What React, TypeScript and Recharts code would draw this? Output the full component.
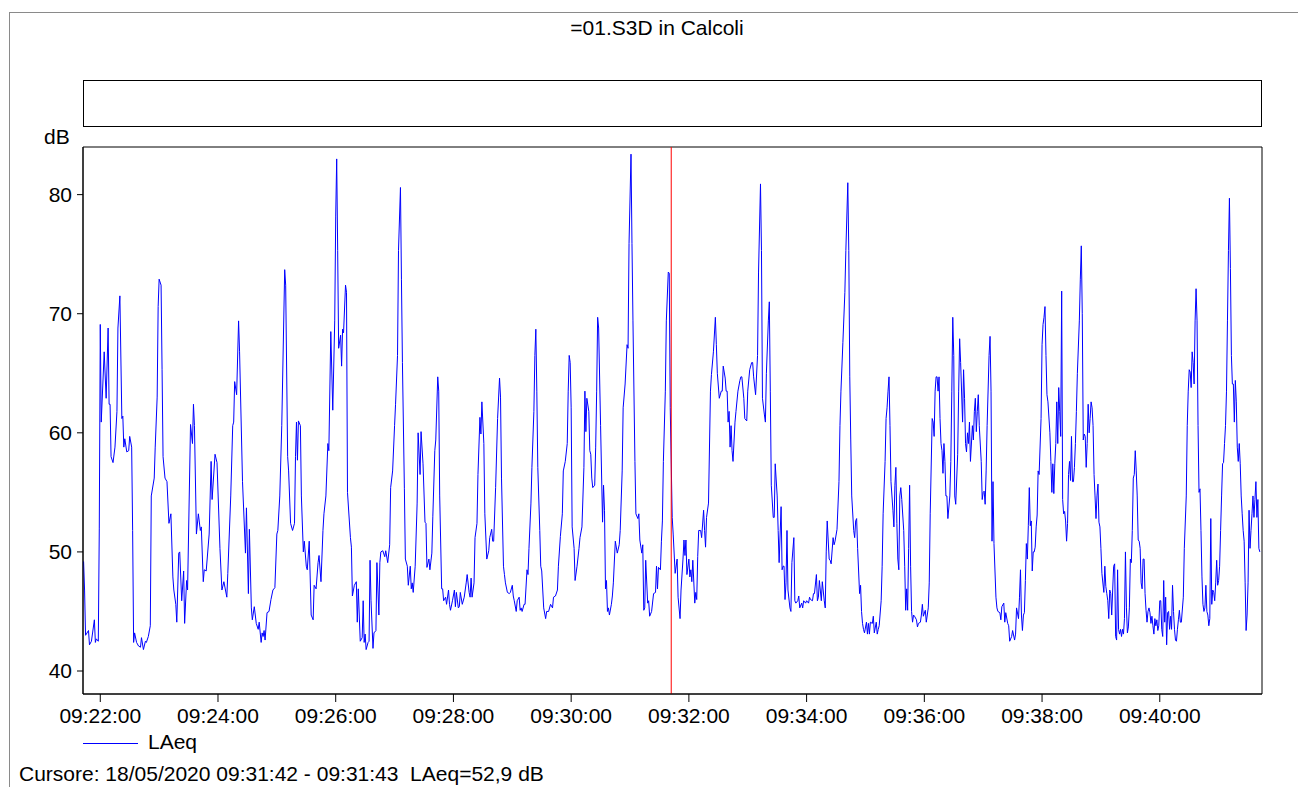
import { Line, LineChart, ReferenceArea, ReferenceLine, XAxis, YAxis } from 'recharts';

// seconds are counted from 09:22:00, values are LAeq in dB
const T0 = 9 * 3600 + 22 * 60;

const part1: [number, number][] = [
    [-17, 49.2], [-16, 46.8], [-15, 43.0], [-12, 43.4], [-11, 42.2], [-9, 42.5], [-6, 44.3], [-5, 42.4], [-4, 42.7], [-2, 42.5],
    [-1, 52.0], [0, 69.1], [1, 60.9], [4, 66.8], [6, 62.9], [8, 68.8], [9, 62.4], [10, 62.4], [11, 58.0], [13, 57.5],
    [15, 58.8], [17, 61.8], [18, 68.8], [20, 71.5], [22, 61.2], [23, 61.4], [24, 58.8], [25, 59.5], [27, 58.4], [29, 58.5],
    [30, 59.7], [32, 58.8], [33, 51.8], [34, 42.4], [35, 43.2], [37, 42.4], [39, 42.1], [41, 42.0], [42, 42.8], [44, 41.8],
    [46, 42.5], [47, 42.4], [49, 42.9], [51, 43.8], [52, 54.7], [55, 56.2], [56, 58.8], [58, 63.0], [59, 70.6], [60, 72.9],
    [62, 72.4], [63, 65.3], [64, 58.0], [66, 56.2], [68, 55.9], [70, 52.4], [72, 53.2], [74, 47.9], [75, 46.8], [77, 45.6],
    [78, 44.1], [80, 49.9], [81, 50.0], [83, 45.9], [85, 48.4], [86, 44.0], [88, 47.6],
];

const part2: [number, number][] = [
    [89, 46.8], [92, 60.7], [94, 59.1], [95, 62.4], [96, 60.6], [98, 51.5], [100, 53.2], [102, 51.8], [103, 52.1], [105, 47.5],
    [106, 48.5], [108, 48.4], [111, 51.5], [113, 57.6], [114, 54.4], [117, 58.2], [119, 57.5], [122, 50.3], [124, 46.8], [126, 47.5],
    [129, 46.2], [130, 48.2], [133, 54.7], [135, 60.6], [136, 60.9], [137, 64.3], [139, 63.2], [141, 69.4], [142, 66.8], [145, 55.9],
    [148, 49.9], [149, 53.7], [151, 46.5], [152, 51.9], [154, 45.3], [155, 44.3], [157, 45.4], [159, 44.0], [161, 43.5], [162, 44.1],
    [164, 42.4], [165, 43.2], [166, 42.9], [167, 43.4], [168, 42.6], [170, 44.9], [172, 45.0], [174, 46.0], [176, 46.8], [178, 47.0],
    [180, 51.5], [181, 51.8], [183, 54.7], [185, 60.6], [188, 73.7], [189, 72.4], [191, 58.0], [192, 56.8], [194, 52.4], [196, 51.8],
    [198, 52.4], [199, 58.0],
];

const part3: [number, number][] = [
    [200, 60.9], [201, 57.7], [202, 61.0], [204, 60.6], [205, 54.7], [207, 50.0], [208, 50.9], [210, 48.8], [211, 48.5], [213, 50.9],
    [215, 44.7], [217, 44.3], [218, 47.2], [220, 46.9], [222, 49.1], [223, 49.7], [225, 47.5], [227, 51.8], [228, 53.2], [230, 54.7],
    [232, 59.1], [233, 58.5], [235, 68.5], [237, 61.9], [239, 69.4], [240, 78.2], [241, 83.0], [242, 75.3], [243, 67.1], [245, 68.2],
    [246, 65.6], [247, 68.7], [248, 68.4], [250, 72.4], [251, 71.8], [252, 55.0], [255, 51.2], [256, 50.4], [257, 46.3], [259, 47.2],
    [261, 47.5], [262, 44.1], [263, 46.9], [265, 42.5], [267, 42.8], [268, 45.9], [269, 42.4], [270, 43.1], [271, 41.8], [273, 42.4],
    [274, 42.5], [275, 49.3], [276, 45.9], [278, 41.9], [279, 43.2], [281, 43.4], [282, 49.1], [284, 44.7], [285, 49.1], [286, 50.0],
    [288, 50.1], [290, 49.6], [291, 50.1], [293, 49.1], [295, 50.6], [296, 55.4], [298, 56.8], [300, 60.6], [301, 62.4], [303, 66.5],
    [304, 75.3], [306, 80.6], [307, 72.9], [308, 65.9], [310, 55.3], [311, 49.4],
];

const part4: [number, number][] = [
    [313, 48.8], [314, 47.2], [316, 48.8], [317, 46.9], [318, 47.4], [319, 46.6], [321, 48.8], [323, 54.1], [324, 60.0], [326, 56.5],
    [327, 60.1], [329, 57.4], [331, 52.5], [332, 52.4], [333, 48.7], [335, 49.4], [336, 48.5], [338, 49.9], [339, 53.0], [341, 58.5],
    [342, 59.4], [344, 64.7], [345, 63.5], [346, 54.7], [348, 46.9], [349, 46.9], [350, 45.9], [352, 46.2], [353, 45.6], [355, 46.8],
    [356, 45.6], [357, 45.1], [359, 45.9], [361, 46.8], [362, 45.4], [363, 46.6], [365, 45.3], [366, 45.4], [367, 46.6], [369, 45.6],
    [371, 46.2], [373, 47.4], [374, 48.1], [376, 46.6], [377, 46.2], [378, 47.8], [379, 46.2], [381, 47.4], [382, 51.2], [384, 52.4],
    [385, 56.5], [387, 61.3], [388, 59.9], [389, 62.6], [391, 59.1], [392, 53.2], [394, 49.4], [396, 50.1], [397, 51.2], [399, 51.9],
    [400, 50.9], [401, 50.9], [403, 55.4], [405, 61.2], [407, 64.6], [408, 63.0], [409, 56.2], [411, 48.8], [412, 48.1], [413, 47.4],
    [415, 46.6], [417, 46.5], [418, 46.6], [420, 47.2],
];

const part5: [number, number][] = [
    [421, 46.3], [422, 45.9], [424, 45.0], [425, 45.9], [427, 46.2], [428, 45.1], [429, 45.3], [430, 45.0], [432, 45.6], [433, 45.6],
    [435, 48.5], [436, 48.1], [437, 50.3], [439, 54.1], [440, 57.1], [442, 61.8], [443, 66.5], [444, 68.7], [445, 63.5], [446, 57.1],
    [448, 51.8], [449, 48.8], [450, 48.4], [452, 45.3], [454, 44.4], [455, 45.0], [457, 45.0], [459, 45.6], [461, 45.3], [462, 46.2],
    [464, 46.3], [466, 46.8], [467, 48.8], [469, 51.3], [471, 53.2], [472, 56.8], [474, 57.6], [476, 59.1], [477, 63.5], [478, 66.5],
    [479, 65.9], [480, 62.1], [481, 52.1], [483, 50.3], [484, 47.6], [486, 48.8], [488, 50.3], [489, 51.2], [491, 52.1], [493, 57.1],
    [494, 63.5], [495, 60.1], [496, 62.9], [498, 61.8], [499, 58.5], [500, 58.2], [501, 56.2], [502, 55.4], [504, 55.6], [505, 58.8],
    [506, 63.5], [507, 69.7], [508, 68.8], [510, 60.6], [512, 52.5], [513, 55.6], [514, 53.5], [515, 46.9], [516, 47.6], [517, 45.0],
    [518, 45.3], [519, 44.7], [521, 45.6], [522, 46.3], [523, 47.4], [525, 50.9], [527, 49.9], [529, 50.6],
];

const part6: [number, number][] = [
    [530, 51.8], [532, 56.8], [533, 62.1], [535, 64.1], [537, 67.4], [538, 67.1], [539, 75.9], [541, 83.4], [542, 75.9], [543, 69.4],
    [545, 57.6], [546, 53.2], [548, 52.8], [549, 53.2], [550, 51.0], [552, 49.9], [553, 50.6], [554, 45.1], [555, 45.3], [556, 49.3],
    [558, 45.7], [559, 45.9], [560, 44.6], [562, 45.0], [564, 46.5], [566, 46.6], [567, 48.8], [568, 46.9], [569, 48.7], [571, 48.5],
    [572, 50.9], [573, 52.6], [574, 57.6], [576, 63.5], [577, 69.4], [579, 73.5], [580, 73.4], [581, 62.1], [583, 52.9], [584, 51.5],
    [586, 48.2], [588, 49.4], [589, 46.2], [591, 44.4], [592, 46.8], [594, 49.4], [595, 51.0], [596, 49.7], [597, 51.0], [598, 48.1],
    [600, 49.4], [601, 47.9], [602, 48.5], [603, 47.5], [604, 49.3], [606, 45.7], [607, 46.6], [608, 46.0], [609, 49.6], [610, 51.8],
    [612, 51.8], [613, 51.2], [615, 53.5], [616, 51.8], [617, 50.4], [618, 52.9], [620, 54.1], [622, 63.5], [623, 64.9], [625, 66.8],
    [627, 69.7], [628, 67.4], [629, 65.0], [631, 62.9], [633, 63.5], [634, 63.5], [635, 65.6], [637, 64.6], [638, 63.5], [639, 63.5],
    [640, 60.9], [641, 61.8],
];

const part7: [number, number][] = [
    [642, 58.8], [643, 60.6], [644, 58.5], [645, 57.6], [647, 60.9], [648, 61.8], [650, 63.5], [652, 64.4], [653, 64.7], [654, 64.7],
    [656, 62.9], [657, 61.2], [659, 61.0], [660, 63.5], [662, 65.3], [664, 65.9], [665, 65.9], [666, 64.7], [668, 63.2], [670, 66.5],
    [671, 73.5], [673, 80.9], [674, 75.3], [675, 62.9], [677, 61.5], [678, 60.9], [679, 65.0], [681, 69.4], [682, 71.0], [683, 63.5],
    [684, 55.6], [686, 52.9], [687, 52.9], [688, 57.4], [690, 54.7], [691, 51.8], [692, 49.1], [694, 53.8], [695, 48.5], [696, 48.8],
    [697, 48.8], [698, 46.0], [699, 47.4], [700, 51.8], [701, 46.8], [703, 45.3], [704, 45.0], [705, 49.1], [707, 51.2], [708, 45.9],
    [709, 45.7], [711, 45.9], [712, 46.3], [713, 45.3], [715, 45.7], [716, 45.3], [717, 45.9], [719, 45.7], [720, 45.9], [722, 45.7],
    [723, 46.2], [724, 46.0], [726, 45.9], [727, 46.5], [728, 46.5], [730, 48.1], [731, 45.9], [732, 46.2], [733, 47.6], [735, 45.9],
    [736, 47.5], [738, 45.9], [739, 45.3], [740, 50.0], [741, 52.6], [743, 49.4], [744, 49.3], [745, 49.0], [747, 51.2], [748, 50.6],
    [749, 50.9], [751, 51.9],
];

const part8: [number, number][] = [
    [753, 55.9], [754, 60.6], [755, 63.5], [757, 67.6], [759, 71.8], [760, 75.3], [762, 81.0], [763, 75.3], [764, 64.7], [765, 59.4],
    [766, 54.7], [768, 51.8], [769, 51.2], [770, 52.6], [771, 52.8], [772, 50.3], [774, 46.5], [775, 47.2], [776, 45.0], [777, 44.0],
    [778, 43.5], [779, 43.2], [781, 44.1], [782, 43.1], [783, 44.0], [784, 43.1], [785, 44.1], [787, 44.0], [788, 44.6], [789, 43.2],
    [791, 44.1], [792, 43.1], [793, 43.5], [794, 43.8], [796, 45.9], [797, 48.8], [798, 53.2], [800, 57.6], [801, 61.2], [802, 62.1],
    [803, 63.5], [804, 64.7], [805, 60.6], [806, 55.9], [808, 53.5], [809, 52.1], [810, 55.6], [811, 57.1], [812, 52.4], [813, 49.4],
    [814, 48.5], [815, 54.7], [816, 55.4], [817, 54.4], [819, 51.8], [820, 48.8], [821, 45.1], [822, 46.9], [823, 45.1], [824, 50.3],
    [825, 55.6], [826, 48.8], [827, 45.0], [828, 44.1], [829, 44.7], [830, 44.6], [832, 44.3], [833, 43.7], [834, 44.0], [836, 44.1],
    [837, 44.7], [838, 45.6], [839, 44.6], [841, 45.1], [842, 44.1], [844, 45.3], [845, 47.4], [846, 53.2], [848, 61.2], [849, 60.9],
    [850, 59.7], [851, 63.5], [852, 64.7], [853, 64.7], [854, 63.5], [855, 64.7], [856, 61.2], [857, 59.1], [858, 58.5], [859, 56.6],
    [860, 59.1], [861, 57.6], [862, 54.7],
];

const part9: [number, number][] = [
    [863, 54.7], [864, 52.8], [866, 54.7], [867, 57.6], [868, 63.5], [869, 69.7], [870, 66.5], [871, 54.7], [872, 54.0], [874, 58.2],
    [875, 63.5], [876, 67.9], [877, 65.9], [879, 60.9], [880, 65.3], [881, 62.9], [882, 59.1], [883, 58.4], [884, 60.0], [885, 59.1],
    [886, 60.9], [887, 57.6], [889, 60.6], [890, 59.4], [891, 61.8], [892, 62.9], [893, 60.1], [894, 61.8], [895, 63.2], [896, 60.6],
    [898, 57.6], [899, 54.4], [900, 55.0], [901, 55.1], [902, 54.0], [903, 56.8], [904, 60.6], [906, 66.5], [907, 68.1], [908, 63.5],
    [909, 50.9], [910, 55.9], [911, 50.7], [913, 46.2], [914, 45.3], [915, 45.0], [917, 44.9], [918, 44.3], [919, 45.4], [921, 45.7],
    [922, 44.1], [923, 44.9], [925, 44.0], [926, 43.8], [927, 42.5], [929, 42.9], [930, 43.4], [932, 42.6], [933, 43.1], [934, 45.3],
    [936, 44.4], [937, 46.2], [938, 48.5], [939, 44.7], [940, 43.4], [941, 44.7], [942, 44.9], [943, 47.6], [944, 50.7], [945, 49.4],
    [946, 52.2], [947, 55.4], [948, 52.2], [949, 52.6], [950, 48.4], [951, 50.0], [952, 50.0], [953, 50.4], [954, 52.1], [955, 53.1],
    [956, 56.8], [957, 56.5], [959, 61.2], [960, 67.4], [961, 69.1], [962, 69.7], [963, 70.6], [964, 66.5], [965, 63.2], [966, 62.6],
    [968, 60.0], [969, 57.6], [970, 55.0], [971, 57.4], [972, 54.9],
];

const part10: [number, number][] = [
    [973, 57.4], [974, 59.1], [975, 62.6], [976, 59.1], [977, 63.8], [978, 61.8], [979, 59.7], [980, 71.9], [981, 54.4], [982, 53.2],
    [983, 53.4], [984, 52.6], [985, 50.9], [986, 52.4], [987, 56.5], [988, 57.6], [989, 56.0], [990, 59.7], [991, 55.9], [992, 55.9],
    [993, 57.1], [994, 59.1], [995, 61.8], [996, 65.0], [998, 69.4], [999, 72.9], [1000, 75.7], [1001, 70.0], [1002, 59.4], [1003, 59.9],
    [1004, 59.7], [1005, 57.1], [1006, 59.1], [1007, 62.4], [1008, 60.0], [1009, 61.2], [1010, 62.6], [1011, 62.1], [1012, 60.6], [1013, 56.5],
    [1014, 54.7], [1015, 52.8], [1016, 54.7], [1017, 55.7], [1018, 52.5], [1019, 52.1], [1020, 50.3], [1021, 48.2], [1023, 46.6], [1024, 48.8],
    [1025, 47.1], [1026, 46.5], [1027, 45.9], [1028, 44.4], [1029, 46.8], [1030, 46.5], [1031, 44.7], [1032, 46.8], [1033, 48.8], [1034, 49.0],
    [1035, 42.9], [1036, 42.6], [1037, 48.5], [1038, 43.5], [1039, 43.1], [1040, 43.5], [1041, 42.9], [1042, 43.5], [1043, 43.1], [1044, 44.4],
    [1045, 50.0], [1046, 45.3], [1047, 43.2], [1048, 43.7], [1049, 45.3], [1050, 49.4], [1051, 49.1], [1052, 51.8], [1053, 56.2], [1054, 56.5],
    [1055, 58.5], [1056, 56.8], [1057, 54.7], [1058, 51.0], [1059, 50.9], [1060, 50.3], [1061, 47.4], [1062, 46.9], [1063, 49.4], [1064, 49.4],
    [1065, 46.5], [1066, 45.1], [1067, 44.1], [1068, 45.0], [1069, 45.3], [1070, 44.9], [1071, 44.0], [1072, 44.6], [1073, 43.8], [1074, 43.1],
    [1075, 44.4], [1076, 43.8], [1077, 44.3], [1078, 43.4], [1079, 43.8], [1080, 45.9], [1081, 45.9], [1082, 43.5],
];

const part11: [number, number][] = [
    [1083, 42.9], [1084, 47.6], [1085, 44.1], [1086, 46.2], [1087, 42.2], [1088, 44.9], [1089, 45.0], [1090, 43.5], [1091, 44.6], [1092, 43.5],
    [1093, 47.2], [1094, 45.0], [1095, 43.5], [1096, 42.6], [1097, 42.5], [1098, 43.5], [1099, 44.3], [1100, 45.1], [1101, 44.1], [1102, 44.1],
    [1104, 46.2], [1105, 50.3], [1107, 54.7], [1108, 60.6], [1109, 63.5], [1110, 65.3], [1111, 65.1], [1112, 63.8], [1113, 66.8], [1114, 65.9],
    [1115, 64.1], [1116, 69.4], [1117, 72.1], [1118, 69.4], [1119, 60.6], [1120, 55.0], [1121, 55.3], [1122, 51.8], [1123, 47.9], [1124, 45.6],
    [1125, 45.0], [1126, 45.3], [1127, 47.2], [1128, 45.0], [1129, 44.7], [1130, 43.8], [1131, 44.4], [1132, 52.8], [1133, 45.6], [1134, 46.8],
    [1135, 46.6], [1136, 45.9], [1137, 47.4], [1138, 49.3], [1139, 47.2], [1140, 47.6], [1141, 48.8], [1142, 51.8], [1143, 54.7], [1144, 57.4],
    [1145, 57.5], [1146, 59.1], [1147, 60.6], [1148, 63.5], [1149, 69.4], [1150, 75.3], [1151, 79.7], [1152, 73.8], [1153, 66.5], [1154, 64.1],
    [1155, 64.1], [1156, 60.9], [1157, 64.4], [1158, 62.6], [1159, 58.8], [1160, 57.6], [1161, 59.1], [1162, 57.4], [1163, 54.7], [1164, 53.2],
    [1165, 51.8], [1166, 50.9], [1167, 47.4], [1168, 43.4], [1169, 44.7], [1170, 47.4], [1171, 53.5], [1172, 50.3], [1173, 51.8], [1174, 53.2],
    [1175, 54.7], [1176, 52.9], [1177, 54.4], [1178, 55.9], [1179, 52.9], [1180, 54.4], [1181, 50.3], [1182, 50.0],
];

const xTickSeconds = [0, 120, 240, 360, 480, 600, 720, 840, 960, 1080];
const yTicks = [40, 50, 60, 70, 80];
const xDomain = [T0 - 17.6, T0 + 1184.2];
const yDomain = [38.07, 84];

const cursorSec = 582; // 09:31:42
const cursorValue = 52.9;

const data = [...part1, ...part2, ...part3, ...part4, ...part5, ...part6, ...part7, ...part8, ...part9, ...part10, ...part11]
    .map(([s, v]) => ({ t: T0 + s, LAeq: v }));

const FONT = "'Liberation Sans', Arial, sans-serif";

function hms(sec: number) {
    const s = Math.round(sec);
    const parts = [Math.floor(s / 3600), Math.floor((s % 3600) / 60), s % 60];
    return parts.map((n) => String(n).padStart(2, '0')).join(':');
}

export default function App() {
    const cursorText = `Cursore: 18/05/2020 ${hms(T0 + cursorSec)} - ${hms(T0 + cursorSec + 1)}  LAeq=${cursorValue.toFixed(1).replace('.', ',')} dB`;

    return (
        <div style={{ position: 'relative', width: 1298, height: 787, overflow: 'hidden', background: '#fff', fontFamily: FONT }}>
            <style>{'body { margin: 0; }'}</style>
            <svg width={1298} height={787} style={{ position: 'absolute', left: 0, top: 0 }}>
                <rect x={9.5} y={12.5} width={1300} height={800} fill="none" stroke="#8a8a8a" />
                <text x={657} y={35} textAnchor="middle" fontSize={21} fontFamily={FONT} fill="#000">=01.S3D in Calcoli</text>
                <rect x={83.5} y={80.5} width={1178} height={46} fill="none" stroke="#000" />
                <text x={44} y={144} fontSize={21} fontFamily={FONT} fill="#000">dB</text>
                <line x1={83} y1={743.5} x2={138} y2={743.5} stroke="#0000ff" />
                <text x={148} y={749} fontSize={21} fontFamily={FONT} fill="#000">LAeq</text>
                <text x={19} y={781} fontSize={21} fontFamily={FONT} fill="#000" style={{ whiteSpace: 'pre' }}>{cursorText}</text>
            </svg>
            <div style={{ position: 'absolute', left: 0, top: 0 }}>
                <LineChart width={1298} height={787} data={data} margin={{ top: 147, right: 36, bottom: 53, left: 23 }}>
                    <XAxis
                        dataKey="t"
                        type="number"
                        domain={xDomain}
                        allowDataOverflow
                        ticks={xTickSeconds.map((s) => T0 + s)}
                        tickFormatter={hms}
                        height={40}
                        tickSize={8}
                        tickMargin={6}
                        stroke="#000"
                        tick={{ fill: '#000', fontSize: 21, fontFamily: FONT }}
                        interval={0}
                    />
                    <YAxis
                        type="number"
                        domain={yDomain}
                        allowDataOverflow
                        ticks={yTicks}
                        width={60}
                        tickSize={6}
                        tickMargin={5}
                        stroke="#000"
                        tick={{ fill: '#000', fontSize: 21, fontFamily: FONT }}
                        interval={0}
                    />
                    <ReferenceArea x1={xDomain[0]} x2={xDomain[1]} y1={yDomain[0]} y2={yDomain[1]} fill="none" stroke="#000" ifOverflow="visible" />
                    <Line type="linear" dataKey="LAeq" stroke="#0000ff" strokeWidth={1} dot={false} isAnimationActive={false} />
                    <ReferenceLine x={T0 + cursorSec} stroke="#ff0000" strokeWidth={1} />
                </LineChart>
            </div>
        </div>
    );
}
